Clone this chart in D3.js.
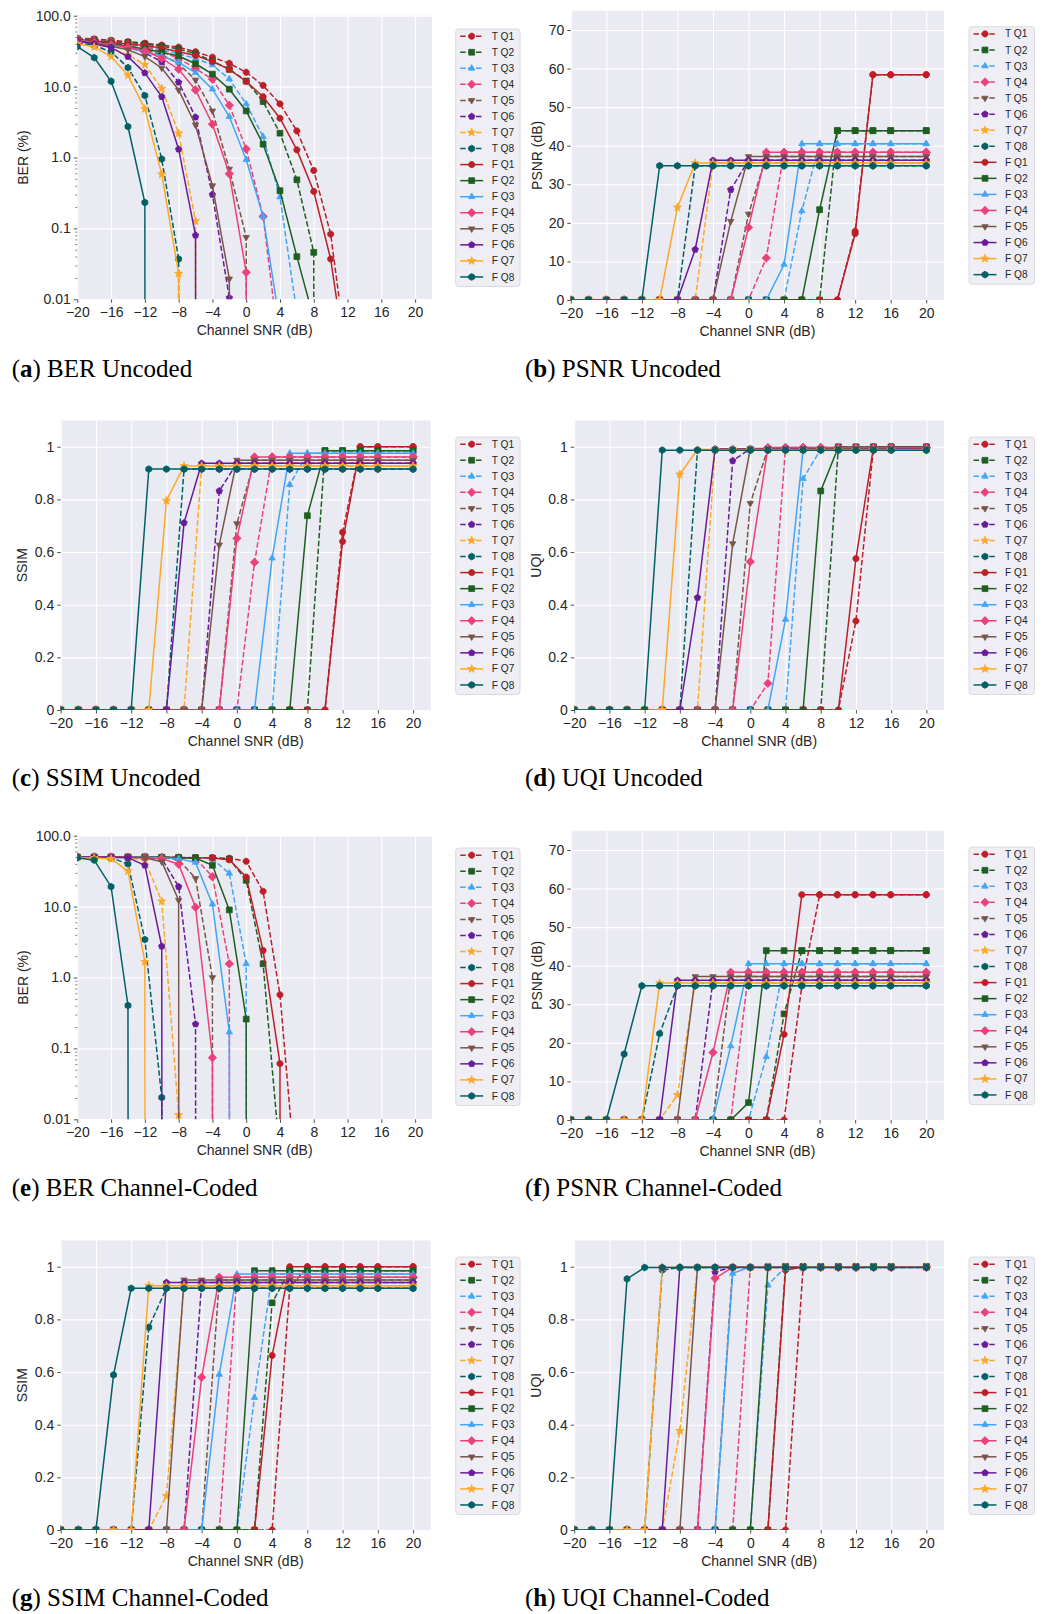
<!DOCTYPE html>
<html><head><meta charset="utf-8">
<script src="https://cdn.jsdelivr.net/npm/d3@7"></script>
<style>
body{margin:0;background:#fff;}
svg{display:block;}
text{font-family:"Liberation Sans",Arial,sans-serif;fill:#262626;}
text.cap{font-family:"Liberation Serif","Times New Roman",serif;fill:#000;}
</style>
</head><body>
<svg id="fig" width="1045" height="1614"></svg>
<script>
// ---------------- data ----------------
const snr = [-20,-18,-16,-14,-12,-10,-8,-6,-4,-2,0,2,4,6,8,10,12,14,16,20];
const seriesLabels = ["T Q1","T Q2","T Q3","T Q4","T Q5","T Q6","T Q7","T Q8",
                      "F Q1","F Q2","F Q3","F Q4","F Q5","F Q6","F Q7","F Q8"];
const qColors = ["#bd1f28","#1e5e22","#42a5f5","#ec407a","#795548","#6a1b9a","#ffa726","#006064"];
const qMarkers = ["circle","square","triangle","diamond","triangleDown","pentagon","star","hexagon"];
const xTicks = [-20,-16,-12,-8,-4,0,4,8,12,16,20];
const berTicks = [100,10,1,0.1,0.01];
const psnrTicks = [0,10,20,30,40,50,60,70];
const unitTicks = [0,0.2,0.4,0.6,0.8,1];

// BER (%) uncoded, rows: T Q1..T Q8, F Q1..F Q8
const berUncoded = [
 [48,47,45,43,41,38.5,36,31,26,21.3,15.9,10.4,5.7,2.37,0.656,0.083,0.0013,0,0,0],
 [47,46,44,42,40,37,34,29,23,17.5,12,6.15,2.2,0.485,0.046,0,0,0,0,0],
 [46,44,42,40,37,33,29,25,20.2,12.8,5.7,1.97,0.277,0.0064,0,0,0,0,0,0],
 [47,45,43,40,36,31,25,18,12.7,5.46,1.32,0.148,0.0017,0,0,0,0,0,0,0],
 [47,45,42,38,33,28,21,12.4,4.54,0.685,0.075,0,0,0,0,0,0,0,0,0],
 [46,44,41,36,30,22.3,11.5,3.7,0.3,0.0105,0,0,0,0,0,0,0,0,0,0],
 [45,41,35,28,20.4,9.38,2.2,0.127,0,0,0,0,0,0,0,0,0,0,0,0],
 [42,38,31,18.5,7.47,0.95,0.037,0,0,0,0,0,0,0,0,0,0,0,0,0],
 [46,44,42,40,38,35,31,27.5,22.5,17.5,11.8,7.2,3.58,1.28,0.332,0.037,0.0009,0,0,0],
 [45,42,40,37,34,30.5,27,21,15,9.2,4.54,1.54,0.34,0.04,0.0053,0,0,0,0,0],
 [45,42,39,35,31,27,22,15.7,9.2,3.78,0.93,0.148,0.0044,0,0,0,0,0,0,0],
 [45,42,39,36,32,25,17.6,8.97,2.95,0.59,0.024,0,0,0,0,0,0,0,0,0],
 [44,41,37,33,26.5,18.3,8.97,2.88,0.4,0.0194,0,0,0,0,0,0,0,0,0,0],
 [44,40,35.5,26.5,15.6,7.2,1.31,0.08,0,0,0,0,0,0,0,0,0,0,0,0],
 [40.6,36.3,26.5,14.4,4.85,0.58,0.023,0,0,0,0,0,0,0,0,0,0,0,0,0],
 [36.6,25.6,11.9,2.73,0.232,0,0,0,0,0,0,0,0,0,0,0,0,0,0,0]
];
// PSNR (dB) uncoded
const psnrUncoded = [
 [0,0,0,0,0,0,0,0,0,0,0,0,0,0,0,0,17.8,58.4,58.4,58.4],
 [0,0,0,0,0,0,0,0,0,0,0,0,0,0,0,43.9,43.9,43.9,43.9,43.9],
 [0,0,0,0,0,0,0,0,0,0,0,0,0,23.1,40.5,40.5,40.5,40.5,40.5,40.5],
 [0,0,0,0,0,0,0,0,0,0,0,10.9,38.3,38.3,38.3,38.3,38.3,38.3,38.3,38.3],
 [0,0,0,0,0,0,0,0,0,0,22.3,37.2,37.2,37.2,37.2,37.2,37.2,37.2,37.2,37.2],
 [0,0,0,0,0,0,0,0,0,28.6,36.2,36.2,36.2,36.2,36.2,36.2,36.2,36.2,36.2,36.2],
 [0,0,0,0,0,0,0,0,35.5,35.5,35.5,35.5,35.5,35.5,35.5,35.5,35.5,35.5,35.5,35.5],
 [0,0,0,0,0,0,0,34.8,34.8,34.8,34.8,34.8,34.8,34.8,34.8,34.8,34.8,34.8,34.8,34.8],
 [0,0,0,0,0,0,0,0,0,0,0,0,0,0,0,0,17.2,58.4,58.4,58.4],
 [0,0,0,0,0,0,0,0,0,0,0,0,0,0,23.4,43.9,43.9,43.9,43.9,43.9],
 [0,0,0,0,0,0,0,0,0,0,0,0,9.2,40.5,40.5,40.5,40.5,40.5,40.5,40.5],
 [0,0,0,0,0,0,0,0,0,0,18.8,38.3,38.3,38.3,38.3,38.3,38.3,38.3,38.3,38.3],
 [0,0,0,0,0,0,0,0,0,20.4,37.2,37.2,37.2,37.2,37.2,37.2,37.2,37.2,37.2,37.2],
 [0,0,0,0,0,0,0,13.1,36.2,36.2,36.2,36.2,36.2,36.2,36.2,36.2,36.2,36.2,36.2,36.2],
 [0,0,0,0,0,0,24.0,35.5,35.5,35.5,35.5,35.5,35.5,35.5,35.5,35.5,35.5,35.5,35.5,35.5],
 [0,0,0,0,0,34.8,34.8,34.8,34.8,34.8,34.8,34.8,34.8,34.8,34.8,34.8,34.8,34.8,34.8,34.8]
];
// SSIM uncoded
const ssimUncoded = [
 [0,0,0,0,0,0,0,0,0,0,0,0,0,0,0,0,0.675,1,1,1],
 [0,0,0,0,0,0,0,0,0,0,0,0,0,0,0,0.985,0.985,0.985,0.985,0.985],
 [0,0,0,0,0,0,0,0,0,0,0,0,0,0.856,0.975,0.975,0.975,0.975,0.975,0.975],
 [0,0,0,0,0,0,0,0,0,0,0,0.561,0.961,0.961,0.961,0.961,0.961,0.961,0.961,0.961],
 [0,0,0,0,0,0,0,0,0,0,0.708,0.949,0.949,0.949,0.949,0.949,0.949,0.949,0.949,0.949],
 [0,0,0,0,0,0,0,0,0,0.832,0.937,0.937,0.937,0.937,0.937,0.937,0.937,0.937,0.937,0.937],
 [0,0,0,0,0,0,0,0,0.927,0.927,0.927,0.927,0.927,0.927,0.927,0.927,0.927,0.927,0.927,0.927],
 [0,0,0,0,0,0,0,0.915,0.915,0.915,0.915,0.915,0.915,0.915,0.915,0.915,0.915,0.915,0.915,0.915],
 [0,0,0,0,0,0,0,0,0,0,0,0,0,0,0,0,0.64,1,1,1],
 [0,0,0,0,0,0,0,0,0,0,0,0,0,0,0.738,0.985,0.985,0.985,0.985,0.985],
 [0,0,0,0,0,0,0,0,0,0,0,0,0.577,0.975,0.975,0.975,0.975,0.975,0.975,0.975],
 [0,0,0,0,0,0,0,0,0,0,0.652,0.961,0.961,0.961,0.961,0.961,0.961,0.961,0.961,0.961],
 [0,0,0,0,0,0,0,0,0,0.627,0.949,0.949,0.949,0.949,0.949,0.949,0.949,0.949,0.949,0.949],
 [0,0,0,0,0,0,0,0.711,0.937,0.937,0.937,0.937,0.937,0.937,0.937,0.937,0.937,0.937,0.937,0.937],
 [0,0,0,0,0,0,0.795,0.927,0.927,0.927,0.927,0.927,0.927,0.927,0.927,0.927,0.927,0.927,0.927,0.927],
 [0,0,0,0,0,0.915,0.915,0.915,0.915,0.915,0.915,0.915,0.915,0.915,0.915,0.915,0.915,0.915,0.915,0.915]
];
// UQI uncoded
const uqiUncoded = [
 [0,0,0,0,0,0,0,0,0,0,0,0,0,0,0,0,0.338,1,1,1],
 [0,0,0,0,0,0,0,0,0,0,0,0,0,0,0,0.999,0.999,0.999,0.999,0.999],
 [0,0,0,0,0,0,0,0,0,0,0,0,0,0.878,0.99,0.99,0.99,0.99,0.99,0.99],
 [0,0,0,0,0,0,0,0,0,0,0,0.101,0.997,0.997,0.997,0.997,0.997,0.997,0.997,0.997],
 [0,0,0,0,0,0,0,0,0,0,0.785,0.993,0.993,0.993,0.993,0.993,0.993,0.993,0.993,0.993],
 [0,0,0,0,0,0,0,0,0,0.947,0.992,0.992,0.992,0.992,0.992,0.992,0.992,0.992,0.992,0.992],
 [0,0,0,0,0,0,0,0,0.989,0.989,0.989,0.989,0.989,0.989,0.989,0.989,0.989,0.989,0.989,0.989],
 [0,0,0,0,0,0,0,0.987,0.987,0.987,0.987,0.987,0.987,0.987,0.987,0.987,0.987,0.987,0.987,0.987],
 [0,0,0,0,0,0,0,0,0,0,0,0,0,0,0,0,0.575,1,1,1],
 [0,0,0,0,0,0,0,0,0,0,0,0,0,0,0.832,0.999,0.999,0.999,0.999,0.999],
 [0,0,0,0,0,0,0,0,0,0,0,0,0.344,0.99,0.99,0.99,0.99,0.99,0.99,0.99],
 [0,0,0,0,0,0,0,0,0,0,0.563,0.997,0.997,0.997,0.997,0.997,0.997,0.997,0.997,0.997],
 [0,0,0,0,0,0,0,0,0,0.632,0.993,0.993,0.993,0.993,0.993,0.993,0.993,0.993,0.993,0.993],
 [0,0,0,0,0,0,0,0.427,0.992,0.992,0.992,0.992,0.992,0.992,0.992,0.992,0.992,0.992,0.992,0.992],
 [0,0,0,0,0,0,0.895,0.989,0.989,0.989,0.989,0.989,0.989,0.989,0.989,0.989,0.989,0.989,0.989,0.989],
 [0,0,0,0,0,0.987,0.987,0.987,0.987,0.987,0.987,0.987,0.987,0.987,0.987,0.987,0.987,0.987,0.987,0.987]
];
// BER (%) channel-coded
const berCoded = [
 [50,50,50,50,50,49.5,49.5,49,49,48,43.5,16.4,0.57,0.00095,0,0,0,0,0,0],
 [50,50,50,50,50,49.5,49,49,48.5,47,23.5,1.56,0.0029,0,0,0,0,0,0,0],
 [50,50,50,50,50,49.5,49,49,47,29.5,1.56,0,0,0,0,0,0,0,0,0],
 [50,50,50,50,50,49.5,49,47.5,26.4,1.56,0,0,0,0,0,0,0,0,0,0],
 [50,50,50,50,49.5,49,46,25,1.0,0,0,0,0,0,0,0,0,0,0,0],
 [50,50,50,49.5,49,47.5,19.1,0.22,0,0,0,0,0,0,0,0,0,0,0,0],
 [50,50,49.5,49,45,11.9,0.0115,0,0,0,0,0,0,0,0,0,0,0,0,0],
 [50,49.5,49,39.9,3.43,0.0203,0,0,0,0,0,0,0,0,0,0,0,0,0,0],
 [50,50,50,50,49.5,49.5,49,49,48.5,45.8,26.1,2.4,0.061,0,0,0,0,0,0,0],
 [50,50,50,50,50,49.5,49,48.5,38.2,8.97,0.259,0,0,0,0,0,0,0,0,0],
 [50,50,50,50,49.5,49,47.5,42,10.8,0.17,0,0,0,0,0,0,0,0,0,0],
 [50,50,50,49.5,49,47.5,39.6,9.8,0.074,0,0,0,0,0,0,0,0,0,0,0],
 [50,50,50,49.5,49,43,12.3,0,0,0,0,0,0,0,0,0,0,0,0,0],
 [50,50,49.5,49,38.2,2.76,0,0,0,0,0,0,0,0,0,0,0,0,0,0],
 [49,48.5,47.3,31.7,1.66,0,0,0,0,0,0,0,0,0,0,0,0,0,0,0],
 [49,45.2,19.1,0.403,0,0,0,0,0,0,0,0,0,0,0,0,0,0,0,0]
];
// PSNR (dB) channel-coded
const psnrCoded = [
 [0,0,0,0,0,0,0,0,0,0,0,0,0,34.8,58.4,58.4,58.4,58.4,58.4,58.4],
 [0,0,0,0,0,0,0,0,0,0,0,0,27.5,43.9,43.9,43.9,43.9,43.9,43.9,43.9],
 [0,0,0,0,0,0,0,0,0,0,0,16.4,40.5,40.5,40.5,40.5,40.5,40.5,40.5,40.5],
 [0,0,0,0,0,0,0,0,0,0,38.3,38.3,38.3,38.3,38.3,38.3,38.3,38.3,38.3,38.3],
 [0,0,0,0,0,0,0,0,0,37.2,37.2,37.2,37.2,37.2,37.2,37.2,37.2,37.2,37.2,37.2],
 [0,0,0,0,0,0,0,0,36.2,36.2,36.2,36.2,36.2,36.2,36.2,36.2,36.2,36.2,36.2,36.2],
 [0,0,0,0,0,0,6.5,35.5,35.5,35.5,35.5,35.5,35.5,35.5,35.5,35.5,35.5,35.5,35.5,35.5],
 [0,0,0,0,0,22.4,34.8,34.8,34.8,34.8,34.8,34.8,34.8,34.8,34.8,34.8,34.8,34.8,34.8,34.8],
 [0,0,0,0,0,0,0,0,0,0,0,0,22.2,58.4,58.4,58.4,58.4,58.4,58.4,58.4],
 [0,0,0,0,0,0,0,0,0,0,4.5,43.9,43.9,43.9,43.9,43.9,43.9,43.9,43.9,43.9],
 [0,0,0,0,0,0,0,0,0,19.2,40.5,40.5,40.5,40.5,40.5,40.5,40.5,40.5,40.5,40.5],
 [0,0,0,0,0,0,0,0,17.5,38.3,38.3,38.3,38.3,38.3,38.3,38.3,38.3,38.3,38.3,38.3],
 [0,0,0,0,0,0,0,37.2,37.2,37.2,37.2,37.2,37.2,37.2,37.2,37.2,37.2,37.2,37.2,37.2],
 [0,0,0,0,0,0,36.2,36.2,36.2,36.2,36.2,36.2,36.2,36.2,36.2,36.2,36.2,36.2,36.2,36.2],
 [0,0,0,0,0,35.5,35.5,35.5,35.5,35.5,35.5,35.5,35.5,35.5,35.5,35.5,35.5,35.5,35.5,35.5],
 [0,0,0,17.1,34.8,34.8,34.8,34.8,34.8,34.8,34.8,34.8,34.8,34.8,34.8,34.8,34.8,34.8,34.8,34.8]
];
// SSIM channel-coded
const ssimCoded = [
 [0,0,0,0,0,0,0,0,0,0,0,0,0,0.92,1,1,1,1,1,1],
 [0,0,0,0,0,0,0,0,0,0,0,0,0.863,0.985,0.985,0.985,0.985,0.985,0.985,0.985],
 [0,0,0,0,0,0,0,0,0,0,0,0.503,0.972,0.972,0.972,0.972,0.972,0.972,0.972,0.972],
 [0,0,0,0,0,0,0,0,0,0,0.96,0.96,0.96,0.96,0.96,0.96,0.96,0.96,0.96,0.96],
 [0,0,0,0,0,0,0,0,0,0.95,0.95,0.95,0.95,0.95,0.95,0.95,0.95,0.95,0.95,0.95],
 [0,0,0,0,0,0,0,0,0.94,0.94,0.94,0.94,0.94,0.94,0.94,0.94,0.94,0.94,0.94,0.94],
 [0,0,0,0,0,0,0.129,0.928,0.928,0.928,0.928,0.928,0.928,0.928,0.928,0.928,0.928,0.928,0.928,0.928],
 [0,0,0,0,0,0.77,0.918,0.918,0.918,0.918,0.918,0.918,0.918,0.918,0.918,0.918,0.918,0.918,0.918,0.918],
 [0,0,0,0,0,0,0,0,0,0,0,0,0.663,1,1,1,1,1,1,1],
 [0,0,0,0,0,0,0,0,0,0,0,0.985,0.985,0.985,0.985,0.985,0.985,0.985,0.985,0.985],
 [0,0,0,0,0,0,0,0,0,0.591,0.972,0.972,0.972,0.972,0.972,0.972,0.972,0.972,0.972,0.972],
 [0,0,0,0,0,0,0,0,0.58,0.96,0.96,0.96,0.96,0.96,0.96,0.96,0.96,0.96,0.96,0.96],
 [0,0,0,0,0,0,0,0.95,0.95,0.95,0.95,0.95,0.95,0.95,0.95,0.95,0.95,0.95,0.95,0.95],
 [0,0,0,0,0,0,0.94,0.94,0.94,0.94,0.94,0.94,0.94,0.94,0.94,0.94,0.94,0.94,0.94,0.94],
 [0,0,0,0,0,0.928,0.928,0.928,0.928,0.928,0.928,0.928,0.928,0.928,0.928,0.928,0.928,0.928,0.928,0.928],
 [0,0,0,0.589,0.918,0.918,0.918,0.918,0.918,0.918,0.918,0.918,0.918,0.918,0.918,0.918,0.918,0.918,0.918,0.918]
];
// UQI channel-coded
const uqiCoded = [
 [0,0,0,0,0,0,0,0,0,0,0,0,0,1,1,1,1,1,1,1],
 [0,0,0,0,0,0,0,0,0,0,0,0,1,1,1,1,1,1,1,1],
 [0,0,0,0,0,0,0,0,0,0,0,0.93,0.999,0.999,0.999,0.999,0.999,0.999,0.999,0.999],
 [0,0,0,0,0,0,0,0,0,0,0.998,0.998,0.998,0.998,0.998,0.998,0.998,0.998,0.998,0.998],
 [0,0,0,0,0,0,0,0,0,0.999,0.999,0.999,0.999,0.999,0.999,0.999,0.999,0.999,0.999,0.999],
 [0,0,0,0,0,0,0,0,0.98,0.999,0.999,0.999,0.999,0.999,0.999,0.999,0.999,0.999,0.999,0.999],
 [0,0,0,0,0,0,0.376,0.998,0.998,0.998,0.998,0.998,0.998,0.998,0.998,0.998,0.998,0.998,0.998,0.998],
 [0,0,0,0,0,0.987,0.997,0.997,0.997,0.997,0.997,0.997,0.997,0.997,0.997,0.997,0.997,0.997,0.997,0.997],
 [0,0,0,0,0,0,0,0,0,0,0,0,0.987,1,1,1,1,1,1,1],
 [0,0,0,0,0,0,0,0,0,0,0,1,1,1,1,1,1,1,1,1],
 [0,0,0,0,0,0,0,0,0,0.975,0.999,0.999,0.999,0.999,0.999,0.999,0.999,0.999,0.999,0.999],
 [0,0,0,0,0,0,0,0,0.956,0.998,0.998,0.998,0.998,0.998,0.998,0.998,0.998,0.998,0.998,0.998],
 [0,0,0,0,0,0,0,0.999,0.999,0.999,0.999,0.999,0.999,0.999,0.999,0.999,0.999,0.999,0.999,0.999],
 [0,0,0,0,0,0,0.999,0.999,0.999,0.999,0.999,0.999,0.999,0.999,0.999,0.999,0.999,0.999,0.999,0.999],
 [0,0,0,0,0,0.998,0.998,0.998,0.998,0.998,0.998,0.998,0.998,0.998,0.998,0.998,0.998,0.998,0.998,0.998],
 [0,0,0,0.954,0.997,0.997,0.997,0.997,0.997,0.997,0.997,0.997,0.997,0.997,0.997,0.997,0.997,0.997,0.997,0.997]
];
const captionLetters = ["a","b","c","d","e","f","g","h"];
const captionTexts = ["BER Uncoded","PSNR Uncoded","SSIM Uncoded","UQI Uncoded",
  "BER Channel-Coded","PSNR Channel-Coded","SSIM Channel-Coded","UQI Channel-Coded"];

// ---------------- layout ----------------
const L = {l:77.3, r:432}, Lu = {l:60.7, r:430.7}, R = {l:570.8, r:944}, Ru = {l:574.2, r:944};
const panels = [
 {data:berUncoded, log:true, x:L, t:15.7, b:299.3, yDom:[0.01,100], ticks:berTicks, ylab:"BER (%)", ylx:22.7, lg:[455.7,29]},
 {data:psnrUncoded, x:R, t:10.7, b:300, yDom:[0,75], ticks:psnrTicks, ylab:"PSNR (dB)", ylx:537.3, lg:[969,26.7]},
 {data:ssimUncoded, x:Lu, t:420.4, b:710, yDom:[0,1.1], ticks:unitTicks, ylab:"SSIM", ylx:21.7, lg:[455.7,437]},
 {data:uqiUncoded, x:Ru, t:420.4, b:710, yDom:[0,1.1], ticks:unitTicks, ylab:"UQI", ylx:535.6, lg:[969,437]},
 {data:berCoded, log:true, x:L, t:835.7, b:1119.3, yDom:[0.01,100], ticks:berTicks, ylab:"BER (%)", ylx:22.7, lg:[455.7,848]},
 {data:psnrCoded, x:R, t:830.7, b:1120, yDom:[0,75], ticks:psnrTicks, ylab:"PSNR (dB)", ylx:537.3, lg:[969,847]},
 {data:ssimCoded, x:Lu, t:1240.4, b:1530, yDom:[0,1.1], ticks:unitTicks, ylab:"SSIM", ylx:21.7, lg:[455.7,1257]},
 {data:uqiCoded, x:Ru, t:1240.4, b:1530, yDom:[0,1.1], ticks:unitTicks, ylab:"UQI", ylx:535.6, lg:[969,1257]}
];
const capPos = [[11.7,377],[525,377],[11.7,786],[525,786],[11.7,1196],[525,1196],[11.7,1606],[525,1606]];

// ---------------- markers ----------------
function poly(n, r, rot){
  const pts=[]; for(let i=0;i<n;i++){const a=rot+i*2*Math.PI/n; pts.push([r*Math.cos(a), r*Math.sin(a)]);}
  return "M"+pts.map(p=>p[0].toFixed(2)+","+p[1].toFixed(2)).join("L")+"Z";
}
function starPath(ro, ri){
  const pts=[]; for(let i=0;i<10;i++){const r=i%2?ri:ro; const a=-Math.PI/2+i*Math.PI/5; pts.push([r*Math.cos(a), r*Math.sin(a)]);}
  return "M"+pts.map(p=>p[0].toFixed(2)+","+p[1].toFixed(2)).join("L")+"Z";
}
function markerPath(type){
  switch(type){
    case "circle": return poly(24,3.1,0);
    case "square": return "M-2.9,-2.9L2.9,-2.9L2.9,2.9L-2.9,2.9Z";
    case "triangle": return poly(3,3.7,-Math.PI/2);
    case "triangleDown": return poly(3,3.7,Math.PI/2);
    case "diamond": return poly(4,4.2,0);
    case "pentagon": return poly(5,3.4,-Math.PI/2);
    case "star": return starPath(4.3,1.75);
    case "hexagon": return poly(6,3.4,-Math.PI/2);
  }
}

const svg = d3.select("#fig");
const lineColor = i => qColors[i%8];
const dashOf = i => i<8 ? "5.5,2.4" : null;

panels.forEach((p, pi) => {
  const x = d3.scaleLinear().domain([-20,22]).range([p.x.l, p.x.r]);
  const y = p.log ? d3.scaleLog().domain(p.yDom).range([p.b, p.t]) : d3.scaleLinear().domain(p.yDom).range([p.b, p.t]);
  const W = p.x.r - p.x.l, H = p.b - p.t;
  const g = svg.append("g");
  g.append("rect").attr("x",p.x.l).attr("y",p.t).attr("width",W).attr("height",H).attr("fill","#eaeaf2");
  // grid
  const gx = g.append("g").attr("transform",`translate(0,${p.b})`)
    .call(d3.axisBottom(x).tickValues(xTicks).tickSize(-H).tickFormat(""));
  gx.select(".domain").remove();
  gx.selectAll("line").attr("stroke","#fff").attr("stroke-width",1.1);
  const gy = g.append("g").attr("transform",`translate(${p.x.l},0)`)
    .call(d3.axisLeft(y).tickValues(p.ticks).tickSize(-W).tickFormat(""));
  gy.select(".domain").remove();
  gy.selectAll("line").attr("stroke","#fff").attr("stroke-width",1.1);
  // axes ticks + labels
  const ax = g.append("g").attr("transform",`translate(0,${p.b})`)
    .call(d3.axisBottom(x).tickValues(xTicks).tickSize(3.5).tickPadding(4.5));
  ax.select(".domain").remove();
  ax.selectAll("line").attr("stroke","#262626").attr("stroke-width",0.8);
  ax.selectAll("text").attr("font-size",14).attr("fill","#262626").style("font-family","Liberation Sans, Arial, sans-serif");
  const fmt = p.log ? (d => d>=0.1 ? d.toFixed(1) : String(d)) : (d => String(d));
  const ay = g.append("g").attr("transform",`translate(${p.x.l},0)`)
    .call(d3.axisLeft(y).tickValues(p.ticks).tickSize(3.5).tickPadding(3).tickFormat(fmt));
  ay.select(".domain").remove();
  ay.selectAll("line").attr("stroke","#262626").attr("stroke-width",0.8);
  ay.selectAll("text").attr("font-size",14).attr("fill","#262626").style("font-family","Liberation Sans, Arial, sans-serif");
  if(p.log){
    const minor=[]; [0.01,0.1,1,10].forEach(dec=>{for(let k=2;k<10;k++) minor.push(dec*k);});
    const am = g.append("g").attr("transform",`translate(${p.x.l},0)`)
      .call(d3.axisLeft(y).tickValues(minor).tickSize(2).tickFormat(""));
    am.select(".domain").remove();
    am.selectAll("line").attr("stroke","#262626").attr("stroke-width",0.6);
  }
  // axis titles
  g.append("text").attr("x",(p.x.l+p.x.r)/2).attr("y",p.b+35.5).attr("text-anchor","middle")
    .attr("font-size",14).text("Channel SNR (dB)");
  g.append("text").attr("transform",`translate(${p.ylx},${(p.t+p.b)/2}) rotate(-90)`)
    .attr("text-anchor","middle").attr("dy","0.35em").attr("font-size",14).text(p.ylab);
  // clip
  const cid = "clip"+pi;
  svg.append("clipPath").attr("id",cid).append("rect").attr("x",p.x.l).attr("y",p.t).attr("width",W).attr("height",H);
  const plot = g.append("g").attr("clip-path",`url(#${cid})`);
  const yv = v => p.log ? y(v>0 ? v : 1e-300) : y(v);
  const line = d3.line().x(d=>x(d[0])).y(d=>yv(d[1]));
  p.data.forEach((row, si) => {
    const pts = snr.map((s,k)=>[s,row[k]]);
    const sg = plot.append("g");
    sg.append("path").attr("d",line(pts)).attr("fill","none").attr("stroke",lineColor(si))
      .attr("stroke-width",1.5).attr("stroke-dasharray",dashOf(si));
    const mp = markerPath(qMarkers[si%8]);
    sg.selectAll("path.m").data(pts.filter(d=>!(p.log && d[1]<=0))).enter().append("path").attr("class","m")
      .attr("d",mp).attr("transform",d=>`translate(${x(d[0])},${yv(d[1])})`)
      .attr("fill",lineColor(si)).attr("stroke",lineColor(si)).attr("stroke-width",0.8);
  });
  // legend
  const [lx,ly] = p.lg;
  const lw = pi%2 ? 65.6 : 64.3;
  const lg = g.append("g").attr("transform",`translate(${lx},${ly})`);
  lg.append("rect").attr("x",0).attr("y",0).attr("width",lw).attr("height",257.5).attr("rx",3)
    .attr("fill","#eeeef4").attr("stroke","#d3d3d8").attr("stroke-width",0.8);
  seriesLabels.forEach((lab,si)=>{
    const yy = 7.2 + si*16.05;
    const e = lg.append("g").attr("transform",`translate(0,${yy})`);
    e.append("line").attr("x1",4.5).attr("x2",27.5).attr("y1",0).attr("y2",0)
      .attr("stroke",lineColor(si)).attr("stroke-width",1.5).attr("stroke-dasharray",dashOf(si));
    e.append("path").attr("d",markerPath(qMarkers[si%8])).attr("transform","translate(16,0)")
      .attr("fill",lineColor(si)).attr("stroke",lineColor(si)).attr("stroke-width",0.8);
    e.append("text").attr("x",36).attr("y",0).attr("dy","0.35em").attr("font-size",10.2).text(lab);
  });
  // caption
  const [cx,cy] = capPos[pi];
  const ct = svg.append("text").attr("class","cap").attr("x",cx).attr("y",cy).attr("font-size",25);
  ct.append("tspan").text("(");
  ct.append("tspan").attr("font-weight","bold").text(captionLetters[pi]);
  ct.append("tspan").text(") " + captionTexts[pi]);
});
</script>
</body></html>
